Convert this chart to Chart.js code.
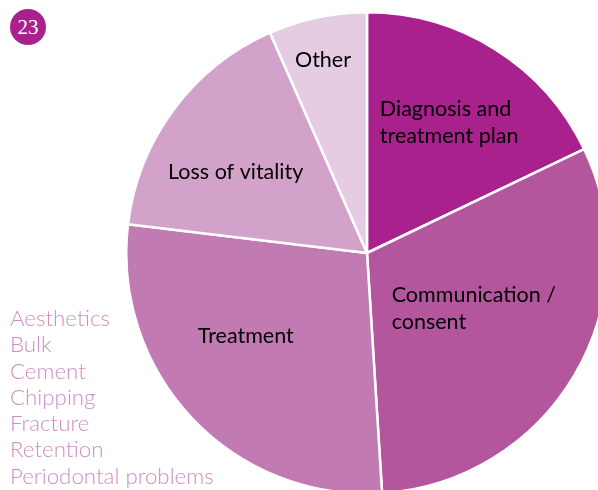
<!DOCTYPE html>
<html>
<head>
<meta charset="utf-8">
<script src="https://cdn.jsdelivr.net/npm/chart.js@4.4.1/dist/chart.umd.min.js"></script>
<style>
  html, body { margin: 0; padding: 0; background: #fff; overflow: hidden; }
  body { width: 598px; height: 490px; position: relative; }
  #wrap { position: absolute; left: 125px; top: 11px; width: 484px; height: 484px; }
  #badge { position: absolute; left: 10px; top: 9px; width: 36px; height: 36px; border-radius: 50%;
           background: #a8218c; color: #fff; font-family: "Liberation Serif", "DejaVu Serif", serif;
           font-size: 21px; text-align: center; line-height: 37px; }
  #notes { position: absolute; left: 10px; top: 305px; color: #cf8ec3;
           font-family: Lato, sans-serif; font-weight: 300; font-size: 22.3px; line-height: 26.3px; }
</style>
</head>
<body>
<div id="badge"></div>
<div id="wrap"><canvas id="pie"></canvas></div>
<div id="notes"></div>
<script>
var figureNumber = '23';
var categories = ['Diagnosis and\ntreatment plan', 'Communication /\nconsent', 'Treatment', 'Loss of vitality', 'Other'];
var shares = [17.9, 31.1, 27.9, 16.5, 6.6];
var otherCauses = ['Aesthetics', 'Bulk', 'Cement', 'Chipping', 'Fracture', 'Retention', 'Periodontal problems'];

var sliceColors = ['#a8218c', '#b3569e', '#c17ab2', '#d3a2ca', '#e6cce3'];
// where each label sits: [fraction of radius, degrees from slice middle, align]
var labelSpots = [[0.64, 0, 'left'], [0.5, -3, 'left'], [0.61, 9, 'center'], [0.64, -5, 'center'], [0.82, -1, 'center']];

document.getElementById('badge').textContent = figureNumber;
document.getElementById('notes').innerHTML = otherCauses.join('<br>');

var sliceLabels = {
    id: 'sliceLabels',
    afterDatasetsDraw: function (chart) {
        var ctx = chart.ctx;
        var arcs = chart.getDatasetMeta(0).data;
        ctx.save();
        ctx.font = '21.5px Lato, sans-serif';
        ctx.fillStyle = '#000';
        ctx.textBaseline = 'middle';
        arcs.forEach(function (arc, i) {
            var spot = labelSpots[i];
            var mid = (arc.startAngle + arc.endAngle) / 2 + spot[1] * Math.PI / 180;
            var r = arc.outerRadius * spot[0];
            var cx = arc.x + Math.cos(mid) * r;
            var cy = arc.y + Math.sin(mid) * r;
            var lines = categories[i].split('\n');
            var w = Math.max.apply(null, lines.map(function (l) { return ctx.measureText(l).width; }));
            var lh = 27.5;
            var top = cy - (lines.length - 1) * lh / 2;
            lines.forEach(function (l, k) {
                if (spot[2] === 'left') {
                    ctx.textAlign = 'left';
                    ctx.fillText(l, cx - w / 2, top + k * lh);
                } else {
                    ctx.textAlign = 'center';
                    ctx.fillText(l, cx, top + k * lh);
                }
            });
        });
        ctx.restore();
    }
};

var pieChart = new Chart(document.getElementById('pie').getContext('2d'), {
    type: 'pie',
    data: {
        labels: categories,
        datasets: [{
            data: shares,
            backgroundColor: sliceColors,
            borderColor: '#fff',
            borderWidth: 2.5
        }]
    },
    options: {
        responsive: true,
        maintainAspectRatio: false,
        animation: false,
        layout: { padding: 0 },
        plugins: {
            legend: { display: false },
            tooltip: { enabled: false }
        }
    },
    plugins: [sliceLabels]
});
</script>
</body>
</html>
